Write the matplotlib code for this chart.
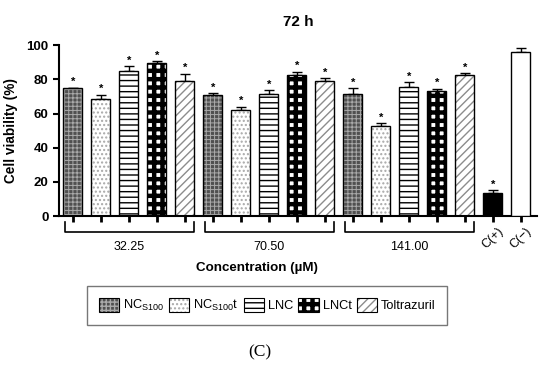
import matplotlib
matplotlib.use("Agg")
import matplotlib.pyplot as plt
import matplotlib.patches as mpatches
from matplotlib.legend_handler import HandlerTuple
import numpy as np

plt.rcParams['font.family'] = ['Liberation Sans', 'DejaVu Sans']

# Data (cell viability %, mean and upper error)
concentrations = ['32.25', '70.50', '141.00']
series_names = ['NC$_{\\mathregular{S100}}$', 'NC$_{\\mathregular{S100}}$t', 'LNC', 'LNCt', 'Toltrazuril']
nc_s100 = [74.7, 70.6, 71.2]
nc_s100t = [68.6, 62.0, 52.6]
lnc = [85.0, 71.3, 75.6]
lnct = [89.6, 82.3, 73.1]
toltrazuril = [79.3, 78.8, 82.3]
nc_s100_err = [0.4, 1.2, 3.5]
nc_s100t_err = [2.5, 2.0, 1.9]
lnc_err = [2.7, 2.3, 2.9]
lnct_err = [1.0, 2.1, 1.4]
toltrazuril_err = [4.1, 1.9, 1.2]
control_names = ['C(+)', 'C(\u2212)']
control_vals = [13.6, 96.1]
control_err = [1.6, 2.3]
control_star = [True, False]

series_vals = [nc_s100, nc_s100t, lnc, lnct, toltrazuril]
series_errs = [nc_s100_err, nc_s100t_err, lnc_err, lnct_err, toltrazuril_err]
# facecolor, hatch, hatch colour, hatch linewidth
styles = [
    ('#505050', '++++', '#aaaaaa', 0.7),
    ('white', '....', '#a8a8a8', 1.0),
    ('white', '---', 'black', 1.0),
    ('white', '++', 'black', 3.2),
    ('white', '////', '#8c8c8c', 1.0),
]

fig = plt.figure(figsize=(5.5, 3.67), dpi=100)
ax = fig.add_axes([0.107, 0.411, 0.869, 0.466])

width = 0.67
n_series = len(series_vals)
handles = []
for s, (vals, errs, (fc, hatch, hc, hlw)) in enumerate(zip(series_vals, series_errs, styles)):
    x = np.arange(len(concentrations)) * n_series + s
    with plt.rc_context({'hatch.linewidth': hlw}):
        ax.bar(x, vals, width, color=fc, hatch=hatch, edgecolor=hc, linewidth=0, zorder=2)
    ax.bar(x, vals, width, color='none', edgecolor='black', linewidth=1.0, zorder=3)
    ax.errorbar(x, vals, yerr=[np.zeros(len(vals)), errs], fmt='none', ecolor='black',
                elinewidth=1.0, capsize=3.3, capthick=1.0, zorder=1)
    for xi, v, e in zip(x, vals, errs):
        ax.text(xi, v + e + 0.3, '*', ha='center', va='bottom', fontsize=8, fontweight='bold')
    with plt.rc_context({'hatch.linewidth': hlw}):
        hp = mpatches.Patch(facecolor=fc, hatch=hatch, edgecolor=hc, linewidth=0)
    handles.append((hp, mpatches.Patch(facecolor='none', edgecolor='black', linewidth=0.8)))

xc = np.arange(len(control_vals)) + len(concentrations) * n_series
ax.bar(xc, control_vals, width, color=['black', 'white'], edgecolor='black', linewidth=1.0, zorder=3)
ax.errorbar(xc, control_vals, yerr=[np.zeros(len(control_vals)), control_err], fmt='none',
            ecolor='black', elinewidth=1.0, capsize=3.3, capthick=1.0, zorder=1)
for xi, v, e, st in zip(xc, control_vals, control_err, control_star):
    if st:
        ax.text(xi, v + e + 0.3, '*', ha='center', va='bottom', fontsize=8, fontweight='bold')

n_total = len(concentrations) * n_series + len(control_vals)
ax.set_xlim(-0.5, n_total - 0.43)
ax.set_ylim(0, 100)
ax.set_yticks([0, 20, 40, 60, 80, 100])
ax.tick_params(axis='y', labelsize=9.5, width=1.5, length=4)
for lab in ax.get_yticklabels():
    lab.set_fontweight('bold')
ax.set_xticks(np.arange(n_total))
ax.set_xticklabels([''] * (n_total - len(control_names)) + control_names, rotation=45, fontsize=9)
ax.tick_params(axis='x', width=2, length=4.5, pad=2)
for sp in ['top', 'right']:
    ax.spines[sp].set_visible(False)
ax.spines['left'].set_linewidth(1.5)
ax.spines['bottom'].set_linewidth(1.5)

ax.set_ylabel('Cell viability (%)', fontsize=9.8, fontweight='bold')
ax.yaxis.set_label_coords(-0.086, 0.5)
ax.set_title('72 h', fontsize=11, fontweight='bold', pad=14)

# group brackets below the axis
trans = ax.get_xaxis_transform()
for g, name in enumerate(concentrations):
    x0 = g * n_series - 0.28
    x1 = g * n_series + n_series - 1 + 0.31
    ax.plot([x0, x0, x1, x1], [-0.035, -0.095, -0.095, -0.035], color='black', lw=1.2,
            transform=trans, clip_on=False)
    ax.text((x0 + x1) / 2, -0.18, name, transform=trans, ha='center', va='center', fontsize=9)

fig.text(257 / 550, 1 - 268 / 367, 'Concentration (\u00b5M)', ha='center', va='center',
         fontsize=9.6, fontweight='bold')

leg = fig.legend(handles, series_names, handler_map={tuple: HandlerTuple(ndivide=1)},
                 loc='center', bbox_to_anchor=(267 / 550, 1 - 305.5 / 367), ncol=5, fontsize=9.2,
                 handlelength=1.6, handleheight=1.3, handletextpad=0.3, columnspacing=0.4,
                 fancybox=False, borderpad=0.9)
leg.get_frame().set_edgecolor('#555555')
leg.get_frame().set_linewidth(1.0)
# legend copies of the patches lose the per-artist hatch width
for p in leg.findobj(mpatches.Rectangle):
    if p.get_hatch() == '++':
        p._hatch_linewidth = 3.2

fig.text(260 / 550, 1 - 352 / 367, '(C)', ha='center', va='center', fontsize=12.5,
         family=['Liberation Serif', 'DejaVu Serif'])

fig.savefig('out.png', dpi=100)
